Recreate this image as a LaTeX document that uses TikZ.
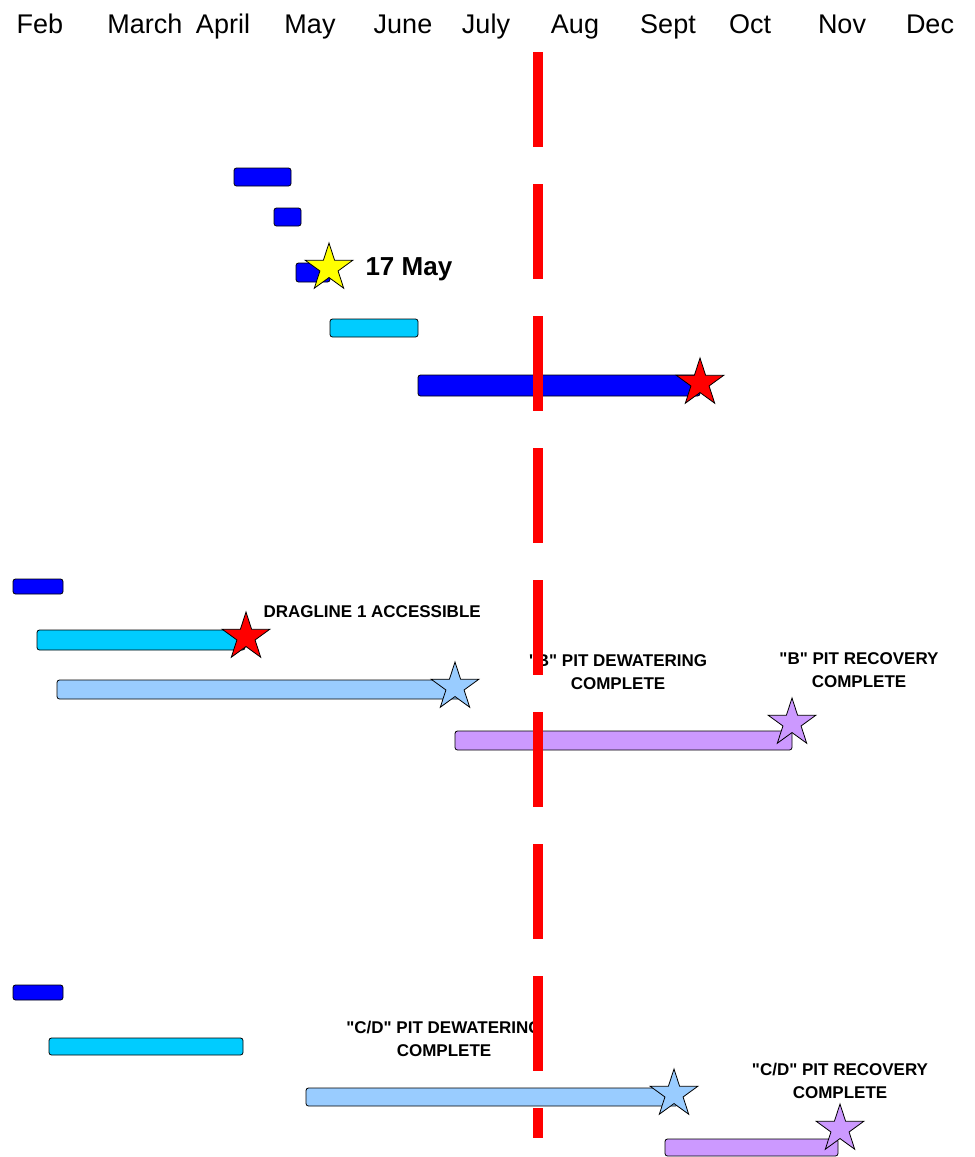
\documentclass[tikz,border=0pt]{standalone}
\usepackage{fontspec}
\setmainfont{Liberation Sans}[Ligatures=TeXOff]
\usetikzlibrary{shapes.geometric}
\definecolor{barblue}{RGB}{0,0,255}
\definecolor{barcyan}{RGB}{0,204,255}
\definecolor{barlight}{RGB}{153,204,255}
\definecolor{barpurple}{RGB}{204,153,255}
\definecolor{redline}{RGB}{255,0,0}
\definecolor{staryellow}{RGB}{255,255,0}
\tikzset{
  bar/.style={draw=black, line width=0.8bp, rounded corners=2.5bp},
  mstar/.style={star, star points=5, star point ratio=2.618, minimum size=50bp, inner sep=0pt, draw=black, line width=0.8bp},
  month/.style={font=\fontsize{27bp}{30bp}\selectfont, anchor=base, inner sep=0pt},
  lab/.style={font=\fontsize{17bp}{23bp}\selectfont\bfseries, align=center},
}
\begin{document}
\begin{tikzpicture}[x=1bp,y=-1bp]
\useasboundingbox (0,0) rectangle (975,1157);
% month labels
\foreach \n/\x/\t in {m1/40/Feb,m2/145/March,m3/223/April,m4/310/May,m5/403/June,m6/486/July,m7/575/Aug,m8/668/Sept,m9/750/Oct,m10/842/Nov,m11/930/Dec}
  \node[month] (\n) at (\x,33) {\t};
% top group
\draw[bar, fill=barblue] (234,168) rectangle (291,186);
\draw[bar, fill=barblue] (274,208) rectangle (301,226);
\draw[bar, fill=barblue] (296,263) rectangle (330,282);
\node[mstar, fill=staryellow] (s1) at (329,268) {};
\node[font=\fontsize{26bp}{30bp}\selectfont\bfseries, anchor=west] (t1) at (362,269) {17 May};
\draw[bar, fill=barcyan] (330,319) rectangle (418,337);
\draw[bar, fill=barblue] (418,375) rectangle (700,396);
\node[mstar, fill=redline] (s2) at (700,383) {};
% middle group
\draw[bar, fill=barblue] (13,579) rectangle (63,594);
\draw[bar, fill=barcyan] (37,630) rectangle (245,650);
\node[mstar, fill=redline] (s3) at (246,637) {};
\node[lab, anchor=west] (t3) at (260,612) {DRAGLINE 1 ACCESSIBLE};
\draw[bar, fill=barlight] (57,680) rectangle (460,699);
\node[mstar, fill=barlight] (s4) at (455,687) {};
\node[lab] (t4) at (618,672.5) {"B" PIT DEWATERING\\COMPLETE};
\draw[bar, fill=barpurple] (455,731) rectangle (792,750);
\node[mstar, fill=barpurple] (s5) at (792,723) {};
\node[lab] (t5) at (859,670) {"B" PIT RECOVERY\\COMPLETE};
% bottom group
\draw[bar, fill=barblue] (13,985) rectangle (63,1000);
\draw[bar, fill=barcyan] (49,1038) rectangle (243,1055);
\draw[bar, fill=barlight] (306,1088) rectangle (678,1106);
\node[mstar, fill=barlight] (s6) at (674,1094) {};
\node[lab] (t6) at (444,1039) {"C/D" PIT DEWATERING\\COMPLETE};
\draw[bar, fill=barpurple] (665,1139) rectangle (838,1156);
\node[mstar, fill=barpurple] (s7) at (840,1129) {};
\node[lab] (t7) at (840,1081) {"C/D" PIT RECOVERY\\COMPLETE};
% red dashed today line
\coordinate (r1) at (538,52);
\coordinate (r2) at (538,1138);
\draw[redline, line width=10bp, dash pattern=on 95bp off 37bp] (r1) -- (r2);
\end{tikzpicture}
\end{document}
